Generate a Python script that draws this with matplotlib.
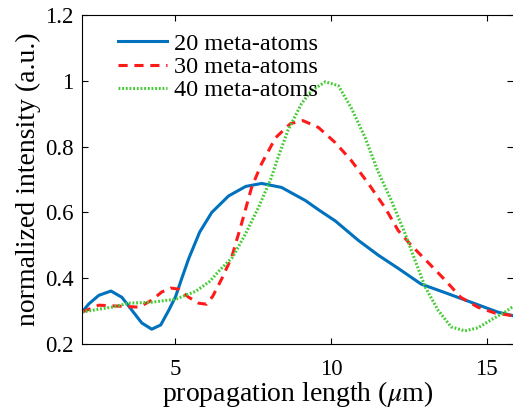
import numpy as np
import matplotlib
matplotlib.use("Agg")
import matplotlib.pyplot as plt

plt.rcParams['font.family'] = ['Liberation Serif', 'DejaVu Serif']
plt.rcParams['mathtext.fontset'] = 'stix'

# propagation length (um) and normalized intensity
x20 = [2.0, 2.22, 2.54, 2.93, 3.28, 3.6, 3.92, 4.24, 4.53, 4.79, 5.01, 5.2, 5.43, 5.78,
       6.17, 6.71, 7.26, 7.77, 8.41, 9.18, 9.6, 10.14, 10.88, 11.52, 12.16, 12.9, 13.67,
       14.5, 15.36, 15.85]
y20 = [0.297, 0.322, 0.348, 0.361, 0.342, 0.303, 0.264, 0.245, 0.258, 0.303, 0.345, 0.398,
       0.46, 0.54, 0.60, 0.65, 0.679, 0.688, 0.676, 0.636, 0.608, 0.574, 0.515, 0.47,
       0.43, 0.382, 0.356, 0.327, 0.297, 0.286]

x30 = [2.0, 2.54, 3.19, 3.83, 4.24, 4.56, 4.85, 5.1, 5.43, 5.75, 6.0, 6.2, 6.5, 6.81,
       7.13, 7.45, 7.77, 8.22, 8.7, 9.1, 9.6, 10.14, 10.65, 11.2, 11.74, 12.16, 12.58,
       13.12, 13.67, 14.17, 14.72, 15.27, 15.85]
y30 = [0.297, 0.318, 0.315, 0.312, 0.333, 0.358, 0.37, 0.367, 0.342, 0.324, 0.321, 0.345,
       0.40, 0.464, 0.567, 0.676, 0.748, 0.827, 0.87, 0.879, 0.858, 0.812, 0.758, 0.688,
       0.614, 0.545, 0.50, 0.448, 0.394, 0.342, 0.312, 0.294, 0.286]

x40 = [2.0, 2.54, 2.96, 3.5, 4.24, 5.0, 5.65, 6.1, 6.42, 6.84, 7.26, 7.67, 8.06, 8.3,
       8.62, 9.05, 9.37, 9.82, 10.24, 10.65, 11.1, 11.5, 11.94, 12.38, 12.7, 13.03, 13.44,
       13.86, 14.3, 14.72, 15.14, 15.59, 15.85]
y40 = [0.297, 0.306, 0.312, 0.324, 0.327, 0.336, 0.36, 0.39, 0.424, 0.464, 0.536, 0.615,
       0.70, 0.767, 0.85, 0.93, 0.97, 0.997, 0.985, 0.918, 0.827, 0.727, 0.636, 0.536,
       0.455, 0.373, 0.303, 0.252, 0.24, 0.249, 0.273, 0.297, 0.314]

fig = plt.figure(figsize=(5.13, 4.11), dpi=100)
ax = fig.add_axes([0.1599, 0.163, 0.8401, 0.8005])

ax.plot(x20, y20, color='#0072BD', lw=2.2, label='20 meta-atoms')
ax.plot(x30, y30, color='#FF1A1A', lw=2.2, ls=(0, (3, 2.2)), label='30 meta-atoms')
ax.plot(x40, y40, color='#44CC33', lw=2.2, ls=(0, (0.6, 0.6)), label='40 meta-atoms')

ax.set_xlim(2, 15.85)
ax.set_ylim(0.2, 1.2)
ax.set_xticks([5, 10, 15])
ax.set_yticks([0.2, 0.4, 0.6, 0.8, 1.0, 1.2])
ax.set_yticklabels(['0.2', '0.4', '0.6', '0.8', '1', '1.2'])
ax.tick_params(direction='in', length=4, width=0.8, top=True, right=True, labelsize=16.5, pad=6)
ax.tick_params(axis='x', pad=11)
ax.spines['right'].set_visible(False)

ax.set_xlabel(r'propagation length ($\mu$m)', fontsize=20, labelpad=-1)
ax.set_ylabel('normalized intensity (a.u.)', fontsize=20, labelpad=3)

ax.legend(loc='upper left', frameon=False, fontsize=17.5, handlelength=2.0,
          handletextpad=0.3, labelspacing=0.05, borderaxespad=0.2, bbox_to_anchor=(0.05, 0.99))

fig.savefig('out.png', dpi=100)
